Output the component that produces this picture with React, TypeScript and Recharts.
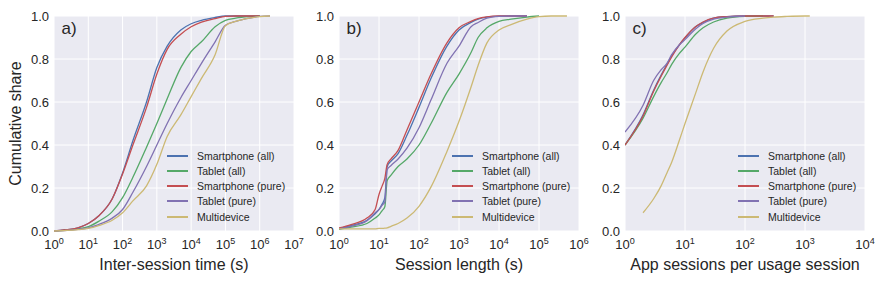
import React from 'react';
import { LineChart, Line, XAxis, YAxis, CartesianGrid, Legend } from 'recharts';

const TEXT = '#262626';
const FONT = '"Liberation Sans", Arial, Helvetica, sans-serif';
const BG = '#EAEAF2';

const seriesNames = ['Smartphone (all)', 'Tablet (all)', 'Smartphone (pure)', 'Tablet (pure)', 'Multidevice'];
const seriesColors = ['#4C72B0', '#55A868', '#C44E52', '#8172B2', '#CCB974'];
const yTicks = [0, 0.2, 0.4, 0.6, 0.8, 1.0];

// a) inter-session time (s)
const interX = [1, 2, 5, 10, 20, 50, 100, 200, 500, 1e3, 2e3, 5e3, 1e4, 2e4, 5e4, 1e5, 2e5, 5e5, 1e6, 2e6];
const interSmartAll = [0, 0.005, 0.015, 0.035, 0.07, 0.15, 0.27, 0.42, 0.6, 0.76, 0.86, 0.935, 0.964, 0.98, 0.993, 1, 1, 1, 1, null];
const interTabletAll = [0, 0.003, 0.01, 0.02, 0.045, 0.09, 0.155, 0.25, 0.39, 0.5, 0.615, 0.76, 0.835, 0.88, 0.95, 0.98, 0.99, 0.997, 1, null];
const interSmartPure = [0, 0.005, 0.015, 0.035, 0.07, 0.15, 0.265, 0.4, 0.575, 0.73, 0.845, 0.915, 0.95, 0.972, 0.988, 0.998, 1, 1, 1, null];
const interTabletPure = [0, 0.002, 0.008, 0.015, 0.03, 0.06, 0.1, 0.18, 0.3, 0.4, 0.5, 0.62, 0.7, 0.78, 0.88, 0.957, 0.975, 0.99, 0.998, 1];
const interMulti = [0, 0.002, 0.006, 0.012, 0.025, 0.05, 0.085, 0.14, 0.21, 0.31, 0.44, 0.54, 0.625, 0.71, 0.82, 0.955, 0.975, 0.99, 0.997, 1];
const interTicks = [1, 10, 100, 1e3, 1e4, 1e5, 1e6, 1e7];

// b) session length (s)
const lenX = [1, 2, 5, 8, 10, 12, 14, 16, 20, 30, 50, 100, 200, 500, 1e3, 2e3, 3e3, 5e3, 1e4, 2e4, 5e4, 1e5, 2e5, 5e5];
const lenSmartAll = [0.012, 0.025, 0.05, 0.08, 0.1, 0.125, 0.155, 0.3, 0.325, 0.36, 0.445, 0.575, 0.71, 0.86, 0.935, 0.97, 0.985, 0.995, 0.999, 1, 1, null, null, null];
const lenTabletAll = [0.008, 0.018, 0.035, 0.06, 0.075, 0.095, 0.113, 0.235, 0.26, 0.3, 0.335, 0.4, 0.5, 0.645, 0.73, 0.83, 0.9, 0.945, 0.975, 0.985, 0.995, 1, null, null];
const lenSmartPure = [0.014, 0.03, 0.06, 0.1, 0.17, 0.21, 0.245, 0.31, 0.335, 0.375, 0.47, 0.6, 0.73, 0.875, 0.945, 0.975, 0.988, 0.996, 1, 1, 1, null, null, null];
const lenTabletPure = [0.01, 0.022, 0.048, 0.085, 0.1, 0.12, 0.135, 0.285, 0.305, 0.335, 0.385, 0.48, 0.61, 0.78, 0.86, 0.95, 0.97, 0.99, 0.998, 1, 1, null, null, null];
const lenMulti = [0.01, 0.01, 0.01, 0.01, 0.012, 0.012, 0.013, 0.015, 0.022, 0.035, 0.06, 0.115, 0.205, 0.37, 0.51, 0.67, 0.77, 0.875, 0.935, 0.96, 0.985, 0.997, 1, 1];
const lenTicks = [1, 10, 100, 1e3, 1e4, 1e5, 1e6];

// c) app sessions per usage session
const appX = [1, 2, 3, 4, 5, 6, 8, 10, 15, 20, 30, 50, 100, 200, 300, 500, 1000, 1200];
const appSmartAll = [0.4, 0.54, 0.655, 0.725, 0.775, 0.815, 0.865, 0.898, 0.95, 0.97, 0.99, 0.997, 1, 1, 1, null, null, null];
const appTabletAll = [0.4, 0.525, 0.625, 0.69, 0.735, 0.775, 0.825, 0.855, 0.915, 0.945, 0.972, 0.99, 0.998, 1, null, null, null, null];
const appSmartPure = [0.4, 0.535, 0.65, 0.72, 0.77, 0.81, 0.865, 0.9, 0.95, 0.972, 0.99, 0.997, 1, 1, 1, null, null, null];
const appTabletPure = [0.46, 0.585, 0.7, 0.75, 0.78, 0.82, 0.865, 0.89, 0.94, 0.965, 0.985, 0.995, 1, null, null, null, null, null];
const appMulti = [null, 0.085, 0.15, 0.21, 0.27, 0.32, 0.42, 0.5, 0.64, 0.74, 0.85, 0.93, 0.975, 0.99, 0.995, 0.998, 1, 1];
const appTicks = [1, 10, 100, 1e3, 1e4];

type Pt = { x: number; y: number };

const toPoints = (xs: number[], ys: (number | null)[]): Pt[] =>
  xs.map((x, i) => ({ x, y: ys[i] as number })).filter((p) => p.y !== null && p.y !== undefined);

const panels = [
  {
    key: 'a',
    left: 0,
    xLabel: 'Inter-session time (s)',
    ticks: interTicks,
    series: [interSmartAll, interTabletAll, interSmartPure, interTabletPure, interMulti].map((ys) => toPoints(interX, ys)),
    yLabel: true,
  },
  {
    key: 'b',
    left: 285,
    xLabel: 'Session length (s)',
    ticks: lenTicks,
    series: [lenSmartAll, lenTabletAll, lenSmartPure, lenTabletPure, lenMulti].map((ys) => toPoints(lenX, ys)),
    yLabel: false,
  },
  {
    key: 'c',
    left: 571,
    xLabel: 'App sessions per usage session',
    ticks: appTicks,
    series: [appSmartAll, appTabletAll, appSmartPure, appTabletPure, appMulti].map((ys) => toPoints(appX, ys)),
    yLabel: false,
  },
];

const LogTick = (props: any) => {
  const { x, y, payload } = props;
  const exp = Math.round(Math.log10(payload.value));
  return (
    <text x={x} y={y + 18.3} textAnchor="middle" fontSize={13} fontFamily={FONT} fill={TEXT}>
      <tspan>10</tspan>
      <tspan dy={-5.5} fontSize={9}>{exp}</tspan>
    </text>
  );
};

const ShareTick = (props: any) => {
  const { x, y, payload } = props;
  return (
    <text x={x} y={y} dy={4.6} textAnchor="end" fontSize={13} fontFamily={FONT} fill={TEXT}>
      {Number(payload.value).toFixed(1)}
    </text>
  );
};

// keep the legend in plotting order, not alphabetical
const renderLegend = (props: any) => {
  const items = [...(props.payload || [])].sort(
    (a: any, b: any) => seriesNames.indexOf(a.value) - seriesNames.indexOf(b.value)
  );
  return (
    <div style={{ fontFamily: FONT, fontSize: 10.5, color: TEXT }}>
      {items.map((e: any) => (
        <div key={e.value} style={{ display: 'flex', alignItems: 'center', height: 15.25, whiteSpace: 'nowrap' }}>
          <svg width={21} height={4} style={{ marginRight: 9, display: 'block' }}>
            <line x1={0} y1={2} x2={21} y2={2} stroke={e.color} strokeWidth={2} />
          </svg>
          <span>{e.value}</span>
        </div>
      ))}
    </div>
  );
};

export default function App() {
  return (
    <div style={{ position: 'absolute', left: 0, top: 0, width: 886, height: 285, background: '#fff' }}>
      {panels.map((p) => (
        <div key={p.key} style={{ position: 'absolute', left: p.left, top: 0 }}>
          <LineChart width={312} height={285} margin={{ top: 16, right: 18, bottom: 14, left: 0 }}>
            <CartesianGrid stroke="#ffffff" strokeWidth={1} fill={BG} fillOpacity={1} />
            <XAxis
              dataKey="x"
              type="number"
              scale="log"
              domain={[p.ticks[0], p.ticks[p.ticks.length - 1]]}
              ticks={p.ticks}
              interval={0}
              allowDataOverflow
              tick={(t: any) => <LogTick {...t} />}
              tickLine={false}
              axisLine={false}
              tickSize={0}
              tickMargin={0}
              height={40}
              label={{ value: p.xLabel, position: 'insideBottom', offset: 1, fill: TEXT, fontSize: 16, fontFamily: FONT }}
            />
            <YAxis
              type="number"
              domain={[0, 1]}
              ticks={yTicks}
              interval={0}
              tick={(t: any) => <ShareTick {...t} />}
              tickLine={false}
              axisLine={false}
              tickSize={0}
              tickMargin={5}
              width={54}
              label={
                p.yLabel
                  ? {
                      value: 'Cumulative share',
                      angle: -90,
                      position: 'insideLeft',
                      offset: 15,
                      fill: TEXT,
                      fontSize: 16,
                      fontFamily: FONT,
                      style: { textAnchor: 'middle' },
                    }
                  : undefined
              }
            />
            {p.series.map((pts, i) => (
              <Line
                key={seriesNames[i]}
                data={pts}
                dataKey="y"
                name={seriesNames[i]}
                stroke={seriesColors[i]}
                strokeWidth={1.3}
                type="monotone"
                dot={false}
                activeDot={false}
                isAnimationActive={false}
              />
            ))}
            <Legend
              layout="horizontal"
              verticalAlign="middle"
              align="center"
              width={130}
              wrapperStyle={{ left: 167, top: 148, width: 130 }}
              content={renderLegend}
            />
          </LineChart>
        </div>
      ))}
      <svg width={886} height={285} style={{ position: 'absolute', left: 0, top: 0, pointerEvents: 'none' }}>
        {panels.map((p) => (
          <text key={p.key} x={p.left + 54 + 7.5} y={34} fontSize={17} fontFamily={FONT} fill={TEXT}>
            {p.key + ')'}
          </text>
        ))}
      </svg>
    </div>
  );
}
